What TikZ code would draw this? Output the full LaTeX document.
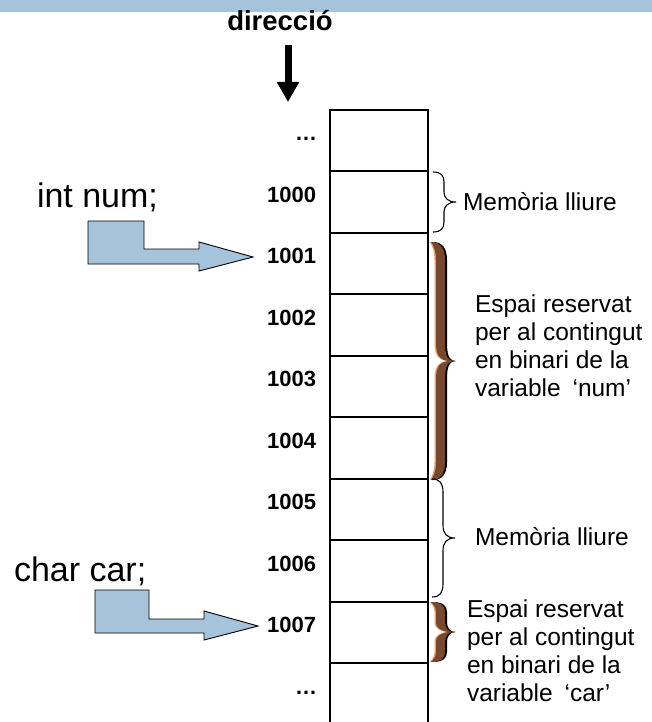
\documentclass[tikz,border=0pt]{standalone}
\usepackage{fontspec}
\setmainfont{Liberation Sans}
\usetikzlibrary{arrows.meta}

\definecolor{barblue}{RGB}{166,195,220}
\definecolor{bracedark}{RGB}{120,72,44}
\definecolor{bracelight}{RGB}{236,160,110}

\newcommand\decltxt{\fontsize{34}{40}\selectfont}
\newcommand\addrtxt{\fontsize{22}{26}\selectfont\bfseries}
\newcommand\notetxt{\fontsize{24.5}{28.3}\selectfont}

% brown curly brace: #1 x of the ends, #2 top y, #3 bottom y, #4 curl height
\newcommand\BrownBrace[4]{%
  \pgfmathsetmacro\bbm{(#2+#3)/2}%
  \path[bracefill] (#1,#2)
    .. controls ({#1+10},#2) and ({#1+14},{#2+0.4*#4}) .. ({#1+14},{#2+#4})
    -- ({#1+14},{\bbm-#4})
    .. controls ({#1+14},{\bbm-4}) and ({#1+17},\bbm) .. ({#1+23},\bbm)
    .. controls ({#1+17},\bbm) and ({#1+14},{\bbm+4}) .. ({#1+14},{\bbm+#4})
    -- ({#1+14},{#3-#4})
    .. controls ({#1+14},{#3-0.4*#4}) and ({#1+10},#3) .. (#1,#3)
    .. controls ({#1+2},{#3-2}) and ({#1+5},{#3-0.5*#4}) .. ({#1+5},{#3-#4})
    -- ({#1+5},{\bbm+#4})
    .. controls ({#1+5},{\bbm+3}) and ({#1+11},{\bbm+1}) .. ({#1+17},\bbm)
    .. controls ({#1+11},{\bbm-1}) and ({#1+5},{\bbm-3}) .. ({#1+5},{\bbm-#4})
    -- ({#1+5},{#2+#4})
    .. controls ({#1+5},{#2+0.5*#4}) and ({#1+2},{#2+2}) .. (#1,#2) -- cycle;}

% thin black curly brace: #1 x of the ends, #2 top y, #3 bottom y, #4 curl height
\newcommand\ThinBrace[4]{%
  \pgfmathsetmacro\tbm{(#2+#3)/2}%
  \draw[thinbrace] (#1,#2)
    .. controls ({#1+8},#2) and ({#1+11},{#2+0.35*#4}) .. ({#1+11},{#2+#4})
    -- ({#1+11},{\tbm-#4})
    .. controls ({#1+11},{\tbm-4}) and ({#1+15},\tbm) .. ({#1+23},\tbm)
    .. controls ({#1+15},\tbm) and ({#1+11},{\tbm+4}) .. ({#1+11},{\tbm+#4})
    -- ({#1+11},{#3-#4})
    .. controls ({#1+11},{#3-0.35*#4}) and ({#1+8},#3) .. (#1,#3);}

\begin{document}
\begin{tikzpicture}[x=1pt,y=-1pt,
  txt/.style={inner sep=0pt, outer sep=0pt},
  addr/.style={txt, anchor=base east, font=\addrtxt},
  note/.style={txt, anchor=base west, font=\notetxt},
  decl/.style={txt, anchor=base west, font=\decltxt},
  cell/.style={draw, line width=2pt, minimum width=98pt,
               inner sep=0pt, outer sep=0pt, anchor=north west},
  declarrow/.style={draw=black, line width=0.9pt, fill=barblue, line join=miter},
  thinbrace/.style={draw=black, line width=1.1pt},
  bracefill/.style={fill=bracedark,
                    preaction={fill=black, transform canvas={xshift=2pt}},
                    preaction={fill=bracelight, transform canvas={xshift=-1.5pt}}},
  dirarrow/.style={line width=7pt, -{Triangle[width=21pt,length=20pt]}},
]
\useasboundingbox (0,0) rectangle (652,722);
\clip (0,0) rectangle (652,722);

% title bar
\fill[barblue] (0,0) rectangle (652,12);

% memory column
\foreach \nm/\top/\h in {ctop/110/61,c1000/171/62,c1001/233/61,c1002/294/62,c1003/356/61,
                         c1004/417/62,c1005/479/61,c1006/540/62,c1007/602/61,cbot/663/62}
  \node[cell, minimum height=\h pt] (\nm) at (330,\top) {};

% addresses
\node[addr] (atop) at (317,140.75) {…};
\foreach \i/\t in {1/1000,2/1001,3/1002,4/1003,5/1004,6/1005,7/1006,8/1007}
  \node[addr] (a\t) at (316,{140.75+61.5*\i}) {\t};
\node[addr] (abot) at (317,694.25) {…};

% direction arrow
\node[txt, anchor=base, font=\fontsize{27.5}{31}\selectfont\bfseries] (dir) at (280,31) {direcció};
\coordinate (dirS) at (288,45);
\coordinate (dirE) at (288,102);
\draw[dirarrow] (dirS) -- (dirE);

% declarations and their pointers
\node[decl] (intnum) at (37,207.5) {int num;};
\coordinate (tipnum) at (253,257);
\draw[declarrow] (88,221) -- (144,221) -- (144,249) -- (199,249) -- (199,242)
  -- (tipnum) -- (199,271) -- (199,264) -- (88,264) -- cycle;

\node[decl] (charcar) at (14,581) {char car;};
\coordinate (tipcar) at (258,626);
\draw[declarrow] (95,590) -- (149,590) -- (149,619) -- (204,619) -- (204,611)
  -- (tipcar) -- (204,640) -- (204,633) -- (95,633) -- cycle;

% braces
\ThinBrace{433}{172}{232}{10}
\BrownBrace{431}{242}{480}{18}
\ThinBrace{432}{479}{597}{13}
\BrownBrace{431}{602}{662}{10}

% notes
\node[note] (free1) at (463,210) {Memòria lliure};
\node[note] (num1) at (475,312) {Espai reservat};
\node[note] (num2) at (475,340.3) {per al contingut};
\node[note] (num3) at (475,368.6) {en binari de la};
\node[note] (num4) at (475,396.9) {variable\hspace{5pt} ‘num’};

\node[note] (free2) at (475,545) {Memòria lliure};
\node[note] (car1) at (467,617) {Espai reservat};
\node[note] (car2) at (467,645.3) {per al contingut};
\node[note] (car3) at (467,673.6) {en binari de la};
\node[note] (car4) at (467,701.9) {variable\hspace{5pt} ‘car’};
\end{tikzpicture}
\end{document}
